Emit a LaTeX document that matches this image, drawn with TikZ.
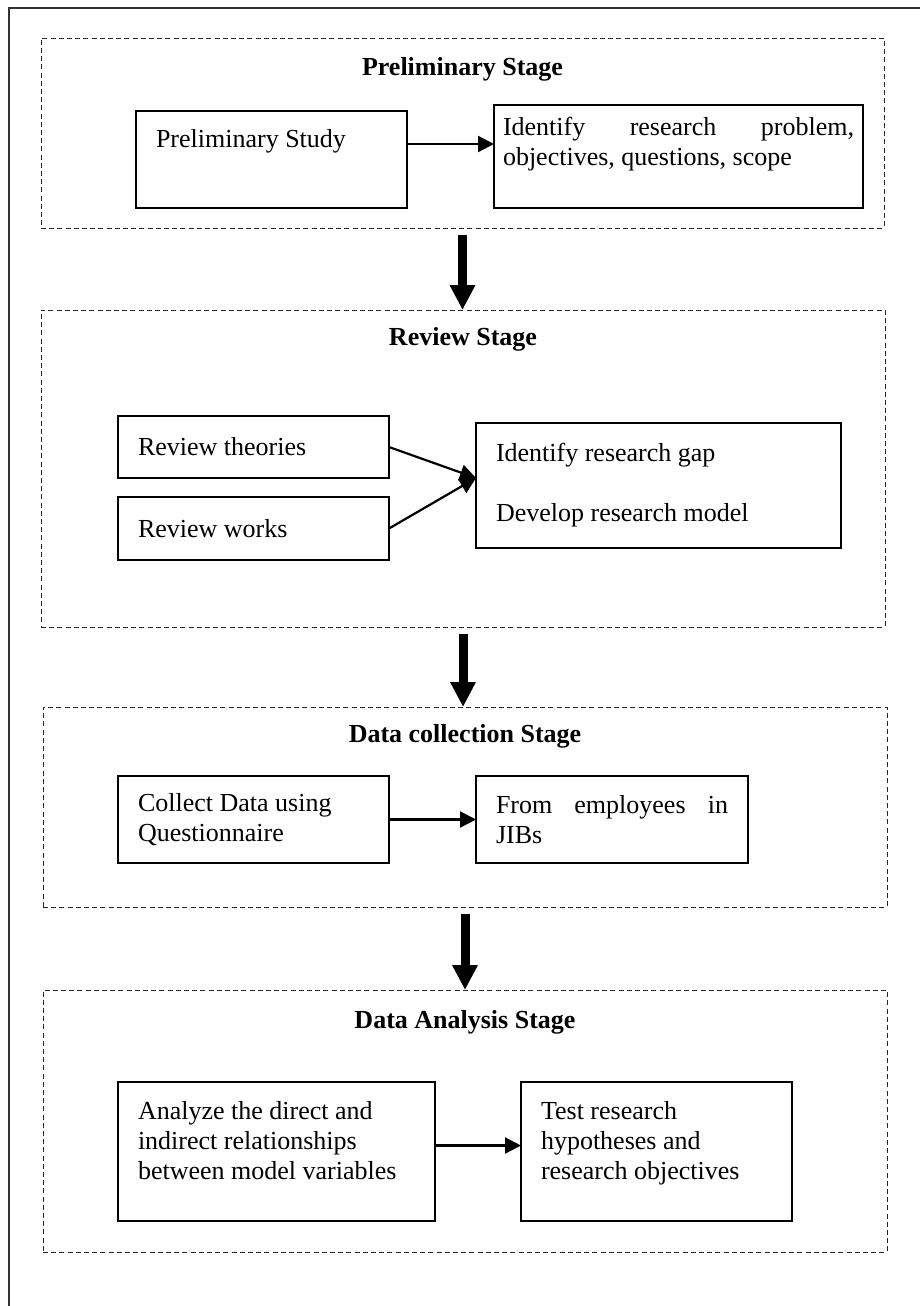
\documentclass[tikz,border=0pt]{standalone}
\usepackage{fontspec}
\setmainfont{Liberation Serif}
\usetikzlibrary{arrows.meta}

\begin{document}
\begin{tikzpicture}[
  x=0.5pt,
  y=-0.5pt,
  font=\fontsize{13}{15}\selectfont,
  stage/.style={
    draw=black!85,
    line width=0.5pt,
    dash pattern=on 2.5pt off 1.6pt,
    anchor=north west,
    outer sep=0pt,
    inner sep=0pt,
  },
  stagetitle/.style={
    font=\fontsize{13}{15}\selectfont\bfseries,
    inner sep=0pt,
  },
  box/.style={
    draw,
    line width=0.9pt,
    anchor=north west,
    outer sep=0pt,
    inner xsep=10pt,
    inner ysep=2pt,
    align=flush left,
  },
]
  \useasboundingbox (0, 0) rectangle (920, 1306);
  \draw[black!80, line width=0.7pt] (9, 1306) |- (920, 8);

  \foreach \name/\x/\y/\w/\h/\head/\gap in {
    st1/41/38/421.5pt/95pt/Preliminary Stage/15.5pt,
    st2/41/310/422pt/158.5pt/Review Stage/14.5pt,
    st3/43/707/422pt/100pt/Data collection Stage/14.5pt,
    st4/43/990/422pt/131pt/Data Analysis Stage/16pt%
  } {
    \node[stage, minimum width=\w, minimum height=\h] (\name) at (\x, \y) {};
    \node[stagetitle, yshift=-\gap] (\name-title) at (\name.north) {\head};
  }

  \node[box, text width=115.5pt, minimum height=48.5pt] (prelim) at (136, 111)
    {Preliminary Study\\[6.5pt]\mbox{}};
  \node[box, inner xsep=4.5pt, text width=175.5pt, minimum height=51.5pt] (problem) at (494, 105)
    {Identify\hfill research\hfill problem,\\objectives, questions, scope\\\mbox{}};

  \node[box, text width=115.5pt, minimum height=31pt] (theories) at (118, 416)
    {Review theories};
  \node[box, text width=115.5pt, minimum height=31.5pt] (works) at (118, 497)
    {Review works};
  \node[box, text width=162.5pt, minimum height=62.5pt] (gap) at (476, 423)
    {Identify research gap\\[15pt]Develop research model};

  \node[box, text width=115.5pt, minimum height=43.5pt] (collect) at (118, 776)
    {Collect Data using\\Questionnaire};
  \node[box, text width=116pt, minimum height=43.5pt] (employees) at (476, 776)
    {From\hfill employees\hfill in\\JIBs};

  \node[box, text width=138.5pt, minimum height=69.5pt] (analyze) at (118, 1082)
    {Analyze the direct and\\indirect relationships\\between model variables\\[-4pt]\mbox{}};
  \node[box, text width=115.5pt, minimum height=69.5pt] (test) at (521, 1082)
    {Test research\\hypotheses and\\research objectives\\[-4pt]\mbox{}};

  \begin{scope}[
    line width=1.1pt,
    >={Triangle[length=8pt, width=8pt]},
  ]
    \draw[->] ([yshift=7.75pt]prelim.east) coordinate (from1) -- (from1 -| problem.west);
    \draw[->] (theories.east) -- ([yshift=3.75pt]gap.west);
    \draw[->] (works.east) -- ([yshift=3.75pt]gap.west);
    \draw[->] (collect.east) -- (employees.west);
    \draw[->] ([yshift=3pt]analyze.east) coordinate (from4) -- (from4 -| test.west);
  \end{scope}

  \begin{scope}[
    line width=4.5pt,
    >={Triangle[length=12.5pt, width=12pt]},
    shorten <=3.5pt,
  ]
    \foreach \a/\b in {st1/st2, st2/st3, st3/st4} {
      \draw[->] (\a.south) -- (\a.south |- \b.north);
    }
  \end{scope}
\end{tikzpicture}
\end{document}
